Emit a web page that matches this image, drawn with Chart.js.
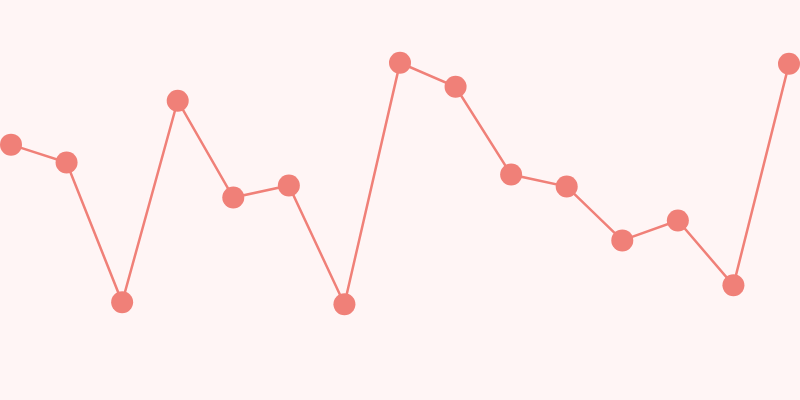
<!DOCTYPE html>
<html>
<head>
<meta charset="utf-8">
<script src="https://cdn.jsdelivr.net/npm/chart.js@4"></script>
<style>
  html, body { margin: 0; padding: 0; background: #fff5f5; }
  #wrap { width: 800px; height: 400px; }
</style>
</head>
<body>
<div id="wrap"><canvas id="chart"></canvas></div>
<script>
// 15 points, no axes shown
const labels = ['1', '2', '3', '4', '5', '6', '7', '8', '9', '10', '11', '12', '13', '14', '15'];
const values = [256, 238, 98, 300, 203, 215, 96, 338, 314, 226, 214, 160, 180, 115, 337];

const ctx = document.getElementById('chart').getContext('2d');
new Chart(ctx, {
    type: 'line',
    data: {
        labels: labels,
        datasets: [{
            data: values,
            borderColor: '#f08078',
            backgroundColor: '#f08078',
            borderWidth: 2.5,
            pointRadius: 11,
            pointBorderWidth: 0,
            tension: 0,
            clip: false
        }]
    },
    options: {
        responsive: true,
        maintainAspectRatio: false,
        animation: false,
        layout: { autoPadding: false, padding: { left: 11, right: 11, top: 1, bottom: 0 } },
        plugins: { legend: { display: false }, tooltip: { enabled: false } },
        scales: {
            x: { display: false, offset: false },
            y: { display: false, min: 0, max: 400 }
        }
    }
});
</script>
</body>
</html>
